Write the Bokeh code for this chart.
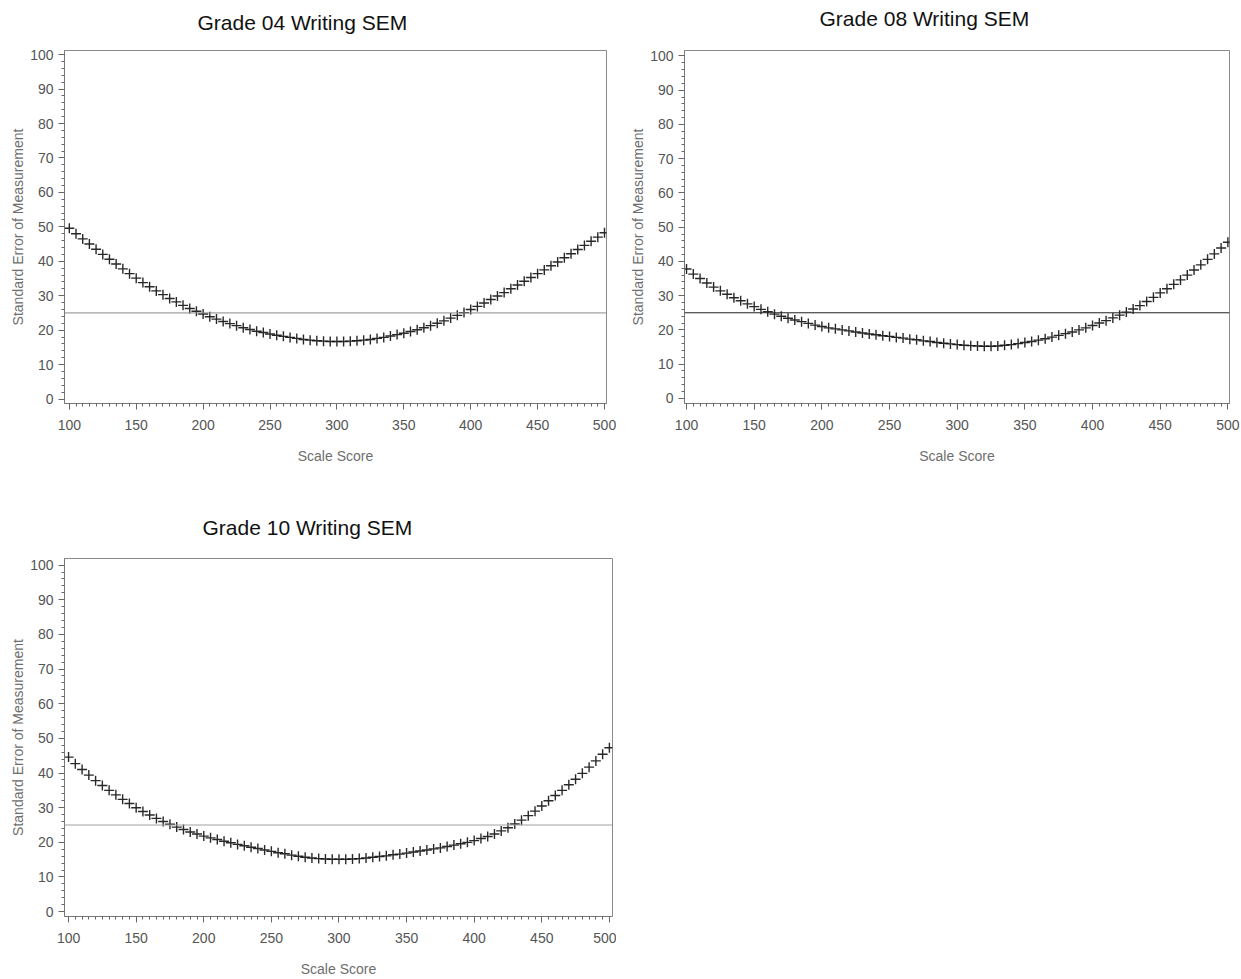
from bokeh.plotting import figure
from bokeh.models import Range1d, Span, FixedTicker, Title
from bokeh.layouts import column, row
from bokeh.embed import file_html
from bokeh.resources import INLINE

scores = list(range(100, 505, 5))

sem_g04 = [49.6, 48.0, 46.5, 45.0, 43.5, 42.0, 40.6, 39.2, 37.8, 36.4,
           35.1, 33.8, 32.6, 31.4, 30.3, 29.2, 28.2, 27.2, 26.3, 25.5,
           24.7, 23.9, 23.2, 22.5, 21.9, 21.3, 20.7, 20.2, 19.7, 19.3,
           18.9, 18.5, 18.2, 17.9, 17.6, 17.3, 17.1, 16.9, 16.8, 16.7,
           16.7, 16.7, 16.8, 16.9, 17.1, 17.3, 17.6, 17.9, 18.3, 18.7,
           19.1, 19.6, 20.1, 20.7, 21.3, 22.0, 22.7, 23.5, 24.3, 25.1,
           26.0, 26.9, 27.9, 28.9, 29.9, 30.9, 32.0, 33.1, 34.2, 35.3,
           36.4, 37.5, 38.7, 39.8, 41.0, 42.2, 43.4, 44.6, 45.8, 47.0,
           48.3]

sem_g08 = [37.8, 36.3, 35.0, 33.7, 32.5, 31.4, 30.4, 29.4, 28.5, 27.6,
           26.8, 26.0, 25.3, 24.6, 24.0, 23.4, 22.9, 22.4, 21.9, 21.4,
           21.0, 20.6, 20.3, 20.0, 19.7, 19.4, 19.1, 18.8, 18.6, 18.3,
           18.1, 17.8, 17.6, 17.3, 17.1, 16.8, 16.6, 16.3, 16.1, 15.9,
           15.7, 15.5, 15.4, 15.3, 15.2, 15.2, 15.3, 15.5, 15.7, 16.0,
           16.3, 16.6, 17.0, 17.4, 17.9, 18.4, 18.9, 19.4, 20.0, 20.6,
           21.3, 22.0, 22.7, 23.5, 24.3, 25.2, 26.1, 27.1, 28.3, 29.5,
           30.8, 32.0, 33.3, 34.6, 36.0, 37.5, 39.0, 40.6, 42.2, 43.9,
           45.6]

sem_g10 = [44.6, 42.7, 41.0, 39.4, 37.8, 36.4, 35.0, 33.7, 32.4, 31.2,
           30.0, 28.9, 27.9, 26.9, 26.0, 25.2, 24.4, 23.7, 23.0, 22.4,
           21.8, 21.3, 20.8, 20.3, 19.9, 19.4, 19.0, 18.6, 18.2, 17.8,
           17.4, 17.0, 16.7, 16.3, 16.0, 15.7, 15.5, 15.3, 15.2, 15.1,
           15.1, 15.1, 15.2, 15.3, 15.5, 15.7, 15.9, 16.1, 16.4, 16.6,
           16.9, 17.2, 17.5, 17.8, 18.1, 18.4, 18.8, 19.2, 19.6, 20.0,
           20.5, 21.1, 21.7, 22.4, 23.3, 24.2, 25.3, 26.4, 27.7, 29.0,
           30.5, 32.0, 33.5, 35.0, 36.6, 38.2, 39.9, 41.7, 43.5, 45.4,
           47.3]

titles = ["Grade 04 Writing SEM", "Grade 08 Writing SEM", "Grade 10 Writing SEM"]
reference_sem = 25
x_ticks = [100, 150, 200, 250, 300, 350, 400, 450, 500]
x_minor = list(range(100, 505, 5))
y_ticks = [0, 10, 20, 30, 40, 50, 60, 70, 80, 90, 100]
y_minor = list(range(0, 102, 2))

TICK_FONT = "Liberation Sans"


def make_panel(title, sem, width, height, borders, xr, yr, ref_color,
               title_offset, gap):
    bl, br, bt, bb = borders
    p = figure(width=width, height=height, output_backend="svg", toolbar_location=None,
               x_range=Range1d(*xr), y_range=Range1d(*yr),
               min_border_left=bl, min_border_right=br, min_border_top=bt, min_border_bottom=bb)
    # blank spacer between the frame and the title
    p.add_layout(Title(text=" ", text_font_size="1px", standoff=gap), "above")
    p.title.text = title
    p.title.align = "left"
    p.title.offset = title_offset
    p.title.text_font = "Liberation Sans"
    p.title.text_font_size = "21px"
    p.title.text_font_style = "normal"
    p.title.text_color = "#111111"
    p.title.standoff = 8
    p.grid.visible = False
    p.outline_line_color = "#8a8a8a"
    p.outline_line_width = 1
    p.background_fill_color = "white"
    p.border_fill_color = "white"

    p.add_layout(Span(location=reference_sem, dimension="width",
                      line_color=ref_color, line_width=1))
    p.scatter(scores, sem, marker="cross", size=10, line_color="#111111",
              line_width=1.4, line_alpha=0.9)

    p.xaxis.ticker = FixedTicker(ticks=x_ticks, minor_ticks=x_minor)
    p.yaxis.ticker = FixedTicker(ticks=y_ticks, minor_ticks=y_minor)
    p.xaxis.axis_label = "Scale Score"
    p.yaxis.axis_label = "Standard Error of Measurement"
    for ax in (p.xaxis, p.yaxis):
        ax.axis_line_color = "#777777"
        ax.major_tick_line_color = "#666666"
        ax.minor_tick_line_color = "#666666"
        ax.major_tick_in = 0
        ax.minor_tick_in = 0
        ax.major_tick_out = 6
        ax.minor_tick_out = 3
        ax.major_label_text_font = TICK_FONT
        ax.major_label_text_font_size = "14px"
        ax.major_label_text_color = "#555555"
        ax.axis_label_text_font = TICK_FONT
        ax.axis_label_text_font_size = "14px"
        ax.axis_label_text_font_style = "normal"
        ax.axis_label_text_color = "#6e6e6e"
    p.xaxis.major_label_standoff = 10
    p.xaxis.axis_label_standoff = 15
    p.yaxis.major_label_standoff = 5
    p.yaxis.axis_label_standoff = 1
    return p


p1 = make_panel(titles[0], sem_g04, 616, 500, (64, 10, 49, 97),
                (96.4, 501.5), (-1.3, 101.2), "#8a8a8a", 133, 10)
p2 = make_panel(titles[1], sem_g08, 625, 500, (68, 12, 49, 97),
                (98.5, 501.2), (-1.5, 101.6), "#222222", 135, 14)
p3 = make_panel(titles[2], sem_g10, 616, 479, (64, 4, 58, 62),
                (97.0, 502.3), (-1.4, 101.9), "#a0a0a0", 138, 13)

layout = column(row(p1, p2, spacing=0), p3, spacing=0)

open("out.html", "w").write(file_html(layout, INLINE))
